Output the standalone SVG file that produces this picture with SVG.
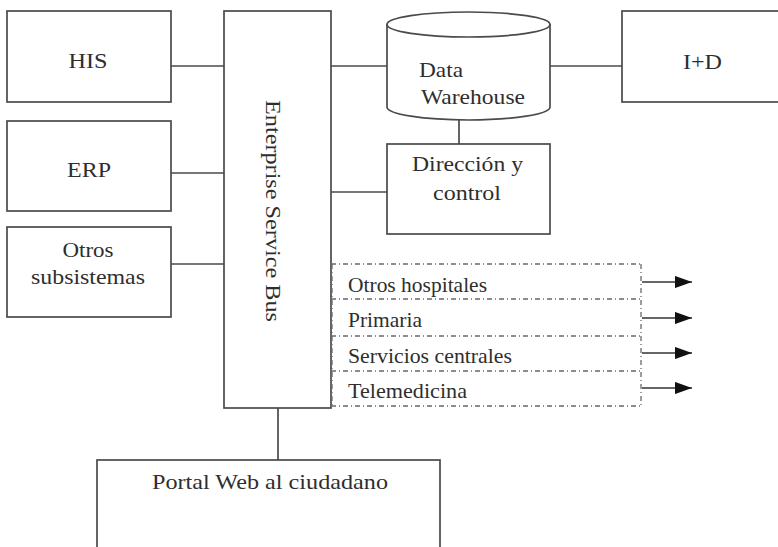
<svg xmlns="http://www.w3.org/2000/svg" width="778" height="547" viewBox="0 0 778 547">
  <style>
    .box { fill: #ffffff; stroke: #4a4a4a; stroke-width: 1.7; }
    .link { fill: none; stroke: #4a4a4a; stroke-width: 1.7; }
    .dash { fill: none; stroke: #6a6a6a; stroke-width: 1.3; stroke-dasharray: 5 3 1 3; }
    .out { fill: none; stroke: #333333; stroke-width: 1.7; }
    .lbl { font-family: "Liberation Serif", "Times New Roman", serif; font-size: 22px; fill: #2e2e2e; }
  </style>
  <defs>
    <marker id="arrow" viewBox="0 0 14 10" refX="14" refY="5" markerWidth="10" markerHeight="7.2" markerUnits="strokeWidth" orient="auto">
      <path d="M0,0 L14,5 L0,10 Z" fill="#111111"/>
    </marker>
  </defs>
  <rect width="778" height="547" fill="#ffffff"/>

  <g id="connectors">
    <line class="link" x1="171" y1="66" x2="224" y2="66"/>
    <line class="link" x1="171" y1="173" x2="224" y2="173"/>
    <line class="link" x1="171" y1="264" x2="224" y2="264"/>
    <line class="link" x1="331" y1="66" x2="387" y2="66"/>
    <line class="link" x1="331" y1="192" x2="387" y2="192"/>
    <line class="link" x1="550" y1="66" x2="622" y2="66"/>
    <line class="link" x1="459" y1="120" x2="459" y2="144"/>
    <line class="link" x1="278" y1="408" x2="278" y2="460"/>
    <line class="out" x1="642" y1="282" x2="692" y2="282" marker-end="url(#arrow)"/>
    <line class="out" x1="642" y1="318" x2="692" y2="318" marker-end="url(#arrow)"/>
    <line class="out" x1="642" y1="353" x2="692" y2="353" marker-end="url(#arrow)"/>
    <line class="out" x1="642" y1="388" x2="692" y2="388" marker-end="url(#arrow)"/>
  </g>

  <g id="his">
    <rect class="box" x="7" y="11" width="164" height="91"/>
    <text class="lbl" x="88" y="68" text-anchor="middle" textLength="39" lengthAdjust="spacingAndGlyphs">HIS</text>
  </g>

  <g id="erp">
    <rect class="box" x="7" y="121" width="164" height="90"/>
    <text class="lbl" x="89" y="177" text-anchor="middle" textLength="44" lengthAdjust="spacingAndGlyphs">ERP</text>
  </g>

  <g id="otros-subsistemas">
    <rect class="box" x="7" y="227" width="164" height="90"/>
    <text class="lbl" x="88" y="257" text-anchor="middle" textLength="51" lengthAdjust="spacingAndGlyphs">Otros</text>
    <text class="lbl" x="88" y="284" text-anchor="middle" textLength="114" lengthAdjust="spacingAndGlyphs">subsistemas</text>
  </g>

  <g id="esb">
    <rect class="box" x="224" y="11" width="107" height="397"/>
    <text class="lbl" transform="translate(266,100) rotate(90)" x="0" y="0" font-size="23" textLength="222" lengthAdjust="spacingAndGlyphs">Enterprise Service Bus</text>
  </g>

  <g id="data-warehouse">
    <path class="box" d="M387,24 L387,107 A81.5,13 0 0 0 550,107 L550,24"/>
    <ellipse class="box" cx="468.5" cy="24.5" rx="81.5" ry="12.5"/>
    <text class="lbl" x="419" y="77" textLength="44" lengthAdjust="spacingAndGlyphs">Data</text>
    <text class="lbl" x="421" y="104" textLength="104" lengthAdjust="spacingAndGlyphs">Warehouse</text>
  </g>

  <g id="i-d">
    <rect class="box" x="622" y="11" width="160" height="91"/>
    <text class="lbl" x="683" y="69" textLength="39" lengthAdjust="spacingAndGlyphs">I+D</text>
  </g>

  <g id="direccion-control">
    <rect class="box" x="387" y="144" width="163" height="90"/>
    <text class="lbl" x="412" y="171" textLength="111" lengthAdjust="spacingAndGlyphs">Dirección y</text>
    <text class="lbl" x="433" y="200" textLength="68" lengthAdjust="spacingAndGlyphs">control</text>
  </g>

  <g id="destinos">
    <path class="dash" d="M331,264 H641 M331,299 H641 M331,336 H641 M331,371 H641 M331,406 H641 M641,264 V406 M332,264 V406"/>
    <text class="lbl" x="348" y="292" textLength="139" lengthAdjust="spacingAndGlyphs">Otros hospitales</text>
    <text class="lbl" x="348" y="327" textLength="74" lengthAdjust="spacingAndGlyphs">Primaria</text>
    <text class="lbl" x="348" y="363" textLength="164" lengthAdjust="spacingAndGlyphs">Servicios centrales</text>
    <text class="lbl" x="348" y="398" textLength="119" lengthAdjust="spacingAndGlyphs">Telemedicina</text>
  </g>

  <g id="portal-web">
    <rect class="box" x="97" y="460" width="343" height="110"/>
    <text class="lbl" x="152" y="489" textLength="236" lengthAdjust="spacingAndGlyphs">Portal Web al ciudadano</text>
  </g>
</svg>
